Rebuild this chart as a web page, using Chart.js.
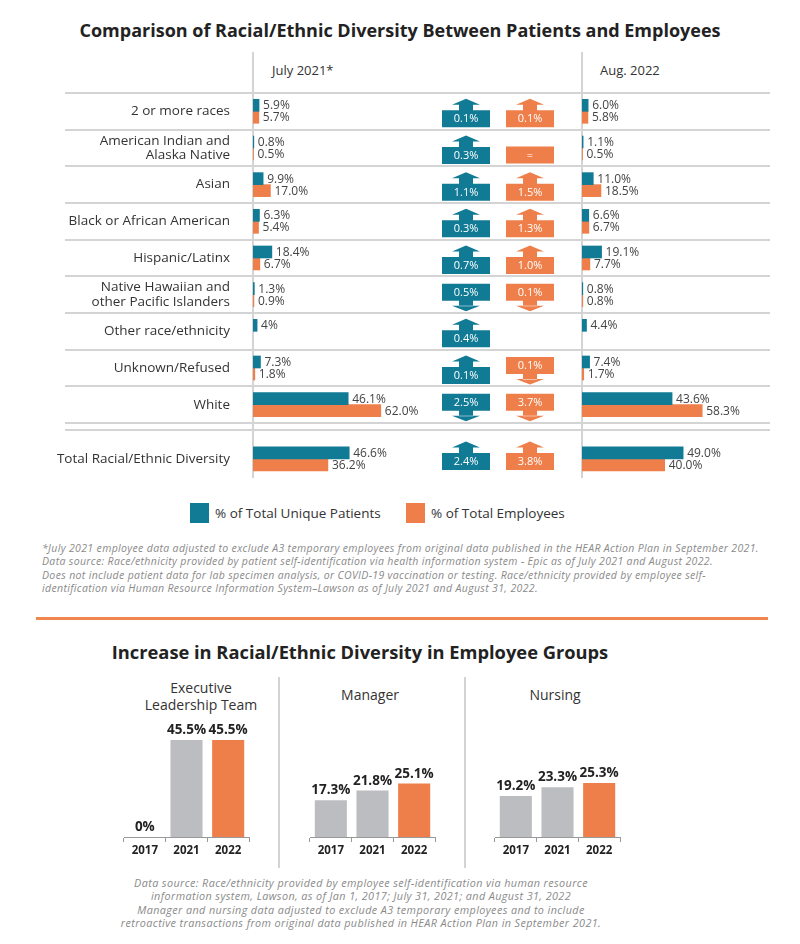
<!DOCTYPE html>
<html>
<head>
<meta charset="utf-8">
<script src="https://cdn.jsdelivr.net/npm/chart.js@4.4.1/dist/chart.umd.min.js"></script>
<style>
  body { margin: 0; background: #fff; font-family: 'Open Sans', sans-serif; color: #333; }
  #page { position: relative; width: 800px; height: 944px; overflow: hidden; background: #fff; }
  .wrap { position: absolute; }
  .title { position: absolute; font-weight: 700; color: #222; white-space: nowrap; transform: translateX(-50%); line-height: 1; }
  .head { position: absolute; font-size: 13px; color: #333; line-height: 1; white-space: nowrap; }
  .panel { position: absolute; font-size: 14px; color: #333; line-height: 17px; text-align: center; transform: translateX(-50%); white-space: nowrap; }
  .note { position: absolute; font-style: italic; color: #8a8a8a; font-size: 10.5px; line-height: 13.3px; letter-spacing: 0.35px; white-space: nowrap; }
  .legend { position: absolute; top: 503px; height: 20px; font-size: 13.5px; line-height: 20px; color: #333; white-space: nowrap; }
  .legend span { display: inline-block; width: 19px; height: 20px; vertical-align: top; margin-right: 6px; }
  .vline { position: absolute; width: 2px; background: #d4d4d4; }
</style>
</head>
<body>
<div id="page">
  <div class="title" style="left:400px;top:21px;font-size:18px">Comparison of Racial/Ethnic Diversity Between Patients and Employees</div>
  <div class="head" style="left:272px;top:64px">July 2021*</div>
  <div class="head" style="left:600px;top:64px">Aug. 2022</div>

  <div class="wrap" style="left:0;top:52px;width:580px;height:426px"><canvas id="july"></canvas></div>
  <div class="wrap" style="left:580px;top:52px;width:220px;height:426px"><canvas id="aug"></canvas></div>

  <div class="legend" style="left:190px"><span style="background:#117a95"></span>% of Total Unique Patients</div>
  <div class="legend" style="left:406px"><span style="background:#ef7f4a"></span>% of Total Employees</div>

  <div class="note" style="left:42px;top:542px">*July 2021 employee data adjusted to exclude A3 temporary employees from original data published in the HEAR Action Plan in September 2021.<br>Data source: Race/ethnicity provided by patient self-identification via health information system - Epic as of July 2021 and August 2022.<br>Does not include patient data for lab specimen analysis, or COVID-19 vaccination or testing. Race/ethnicity provided by employee self-<br>identification via Human Resource Information System–Lawson as of July 2021 and August 31, 2022.</div>

  <div style="position:absolute;left:36px;top:617px;width:732px;height:3px;background:#f08751"></div>

  <div class="title" style="left:360px;top:643px;font-size:18.3px">Increase in Racial/Ethnic Diversity in Employee Groups</div>

  <div class="panel" style="left:201px;top:679px">Executive<br>Leadership Team</div>
  <div class="panel" style="left:370px;top:686px">Manager</div>
  <div class="panel" style="left:555px;top:686px">Nursing</div>
  <div class="vline" style="left:278px;top:677px;height:191px"></div>
  <div class="vline" style="left:464px;top:677px;height:191px"></div>

  <div class="wrap" style="left:114px;top:700px;width:145px;height:161px"><canvas id="elt"></canvas></div>
  <div class="wrap" style="left:300px;top:700px;width:145px;height:161px"><canvas id="manager"></canvas></div>
  <div class="wrap" style="left:485px;top:700px;width:145px;height:161px"><canvas id="nursing"></canvas></div>

  <div class="note" style="left:361px;top:876px;transform:translateX(-50%);text-align:center;font-size:10.8px;letter-spacing:0.4px">Data source: Race/ethnicity provided by employee self-identification via human resource<br>information system, Lawson, as of Jan 1, 2017; July 31, 2021; and August 31, 2022<br>Manager and nursing data adjusted to exclude A3 temporary employees and to include<br>retroactive transactions from original data published in HEAR Action Plan in September 2021.</div>
</div>

<script>
// data
const categories = ['2 or more races', ['American Indian and', 'Alaska Native'], 'Asian', 'Black or African American',
  'Hispanic/Latinx', ['Native Hawaiian and', 'other Pacific Islanders'], 'Other race/ethnicity', 'Unknown/Refused',
  'White', 'Total Racial/Ethnic Diversity'];
const julyPatients  = ['5.9', '0.8', '9.9', '6.3', '18.4', '1.3', '4', '7.3', '46.1', '46.6'];
const julyEmployees = ['5.7', '0.5', '17.0', '5.4', '6.7', '0.9', null, '1.8', '62.0', '36.2'];
const augPatients   = ['6.0', '1.1', '11.0', '6.6', '19.1', '0.8', '4.4', '7.4', '43.6', '49.0'];
const augEmployees  = ['5.8', '0.5', '18.5', '6.7', '7.7', '0.8', null, '1.7', '58.3', '40.0'];

const years = ['2017', '2021', '2022'];
const eltValues = [0, 45.5, 45.5];
const managerValues = [17.3, 21.8, 25.1];
const nursingValues = [19.2, 23.3, 25.3];

const teal = '#117a95', orange = '#ef7f4a', grey = '#bcbdc0', lineGrey = '#d4d4d4';

// layout of the table rows (y units of the row scale)
const rowPos = [0, 1, 2, 3, 4, 5, 6, 7, 8, 9.48];
const arrowPos = [0, 1, 2, 3, 4, 5, 6, 7, 8, 9.345];
const separators = [-0.5, 0.5, 1.5, 2.5, 3.5, 4.5, 5.5, 6.5, 7.5, 8.5, 8.69];

Chart.defaults.font.family = "'Open Sans', sans-serif";
Chart.defaults.color = '#333';

// the original artwork draws small shares at about half the scale of big ones
function warp(v) {
  v = +v;
  if (v <= 20) return v * 1.025;
  if (v <= 36) return 20.5 + (v - 20) * (54 / 16);
  return 74.5 + (v - 36) * 2.05;
}
class WarpScale extends Chart.LinearScale {
  getPixelForValue(value) {
    if (value === null || isNaN(value)) return NaN;
    return this.left + warp(value) * this.width / warp(this.max);
  }
}
WarpScale.id = 'warp';
WarpScale.defaults = Chart.LinearScale.defaults;
Chart.register(WarpScale);

function maxFor(width) { return 36 + (width - 74.5) / 2.05; }

const rowLines = {
  id: 'rowLines',
  beforeDatasetsDraw(chart, args, opts) {
    const ctx = chart.ctx, y = chart.scales.y;
    ctx.save();
    ctx.strokeStyle = lineGrey;
    ctx.lineWidth = 2;
    separators.forEach(s => {
      const py = Math.round(y.getPixelForValue(s));
      ctx.beginPath();
      ctx.moveTo(opts.from, py);
      ctx.lineTo(opts.to, py);
      ctx.stroke();
    });
    ctx.restore();
  }
};

const barValues = {
  id: 'barValues',
  afterDatasetsDraw(chart) {
    const ctx = chart.ctx;
    ctx.save();
    ctx.font = "12px 'Open Sans', sans-serif";
    ctx.fillStyle = '#444';
    ctx.textBaseline = 'middle';
    chart.data.datasets.forEach((ds, di) => {
      chart.getDatasetMeta(di).data.forEach((bar, i) => {
        const raw = ds.data[i].x;
        if (raw === null) return;
        ctx.fillText(raw + '%', bar.x + 4, bar.y + 0.5);
      });
    });
    ctx.restore();
  }
};

function drawArrow(ctx, cx, c, diff, color) {
  const w = 48, hw = 14, sw = 7;
  let boxTop;
  ctx.fillStyle = color;
  ctx.beginPath();
  if (diff > 0) {
    boxTop = c - 1;
    ctx.rect(cx - sw, c - 7, sw * 2, 7);
    ctx.moveTo(cx - hw, c - 6.5);
    ctx.lineTo(cx, c - 12.5);
    ctx.lineTo(cx + hw, c - 6.5);
    ctx.closePath();
  } else if (diff < 0) {
    boxTop = c - 11;
    ctx.rect(cx - sw, c + 5, sw * 2, 6.5);
    ctx.moveTo(cx - hw, c + 11);
    ctx.lineTo(cx, c + 16.5);
    ctx.lineTo(cx + hw, c + 11);
    ctx.closePath();
  } else {
    boxTop = c - 1.5;
  }
  ctx.rect(cx - w / 2, boxTop, w, 17);
  ctx.fill();
  ctx.fillStyle = '#fff';
  ctx.font = "11px 'Open Sans', sans-serif";
  ctx.textAlign = 'center';
  ctx.textBaseline = 'middle';
  const txt = diff === 0 ? '=' : Math.abs(diff).toFixed(1) + '%';
  ctx.fillText(txt, cx, boxTop + 9);
}

const changeArrows = {
  id: 'changeArrows',
  afterDatasetsDraw(chart) {
    const ctx = chart.ctx, y = chart.scales.y;
    ctx.save();
    categories.forEach((c, i) => {
      const cy = y.getPixelForValue(arrowPos[i]);
      const dp = Math.round((augPatients[i] - julyPatients[i]) * 10) / 10;
      drawArrow(ctx, 466, cy, dp, teal);
      if (julyEmployees[i] !== null) {
        const de = Math.round((augEmployees[i] - julyEmployees[i]) * 10) / 10;
        drawArrow(ctx, 530, cy, de, orange);
      }
    });
    ctx.restore();
  }
};

function tableChart(id, patients, employees, showLabels, axisWidth, areaWidth, lineFrom, lineTo, extra) {
  return new Chart(document.getElementById(id), {
    type: 'bar',
    data: {
      datasets: [
        { label: '% of Total Unique Patients', data: patients.map((v, i) => ({ x: v, y: rowPos[i] })), backgroundColor: teal, barThickness: 12 },
        { label: '% of Total Employees', data: employees.map((v, i) => ({ x: v, y: rowPos[i] })), backgroundColor: orange, barThickness: 12 }
      ]
    },
    options: {
      indexAxis: 'y',
      responsive: true,
      maintainAspectRatio: false,
      animation: false,
      layout: { padding: 0, autoPadding: false },
      scales: {
        x: { type: 'warp', min: 0, max: maxFor(areaWidth), display: false },
        y: {
          type: 'linear', reverse: true, min: -1.617, max: 10, offset: false,
          grid: { display: false, drawTicks: false, offset: false },
          border: { display: true, color: lineGrey, width: 2 },
          afterBuildTicks: s => { s.ticks = rowPos.map(v => ({ value: v })); },
          afterFit: s => { s.width = axisWidth; s.paddingTop = 0; s.paddingBottom = 0; },
          ticks: {
            display: showLabels, autoSkip: false, padding: 23,
            font: { size: 13.5, lineHeight: 1.05 }, color: '#333',
            callback: (v, i) => categories[i]
          }
        }
      },
      plugins: {
        legend: { display: false },
        tooltip: { enabled: false },
        rowLines: { from: lineFrom, to: lineTo }
      }
    },
    plugins: [rowLines, barValues].concat(extra)
  });
}

tableChart('july', julyPatients, julyEmployees, true, 253, 327, 65, 580, [changeArrows]);
tableChart('aug', augPatients, augEmployees, false, 2, 218, 0, 190, []);

const topValues = {
  id: 'topValues',
  afterDatasetsDraw(chart) {
    const ctx = chart.ctx;
    ctx.save();
    ctx.font = "bold 13.5px 'Open Sans', sans-serif";
    ctx.fillStyle = '#222';
    ctx.textAlign = 'center';
    ctx.textBaseline = 'bottom';
    const ds = chart.data.datasets[0];
    chart.getDatasetMeta(0).data.forEach((bar, i) => {
      const v = ds.data[i];
      ctx.fillText((v === 0 ? '0' : v.toFixed(1)) + '%', bar.x, bar.y - 3);
    });
    ctx.restore();
  }
};

function groupChart(id, values) {
  return new Chart(document.getElementById(id), {
    type: 'bar',
    data: {
      labels: years,
      datasets: [{ data: values, backgroundColor: [grey, grey, orange], barPercentage: 0.77, categoryPercentage: 1 }]
    },
    options: {
      responsive: true,
      maintainAspectRatio: false,
      animation: false,
      layout: { padding: { left: 10, right: 10, top: 0, bottom: 0 } },
      scales: {
        y: { display: false, min: 0, max: 64.3 },
        x: {
          grid: { display: true, drawOnChartArea: false, drawTicks: true, tickLength: 5, color: '#999', lineWidth: 1, offset: true },
          border: { display: true, color: '#999', width: 1 },
          afterFit: s => { s.height = 24; },
          ticks: { padding: 2, color: '#222', font: { size: 11.5, weight: 'bold' } }
        }
      },
      plugins: { legend: { display: false }, tooltip: { enabled: false } }
    },
    plugins: [topValues]
  });
}

groupChart('elt', eltValues);
groupChart('manager', managerValues);
groupChart('nursing', nursingValues);
</script>
</body>
</html>
